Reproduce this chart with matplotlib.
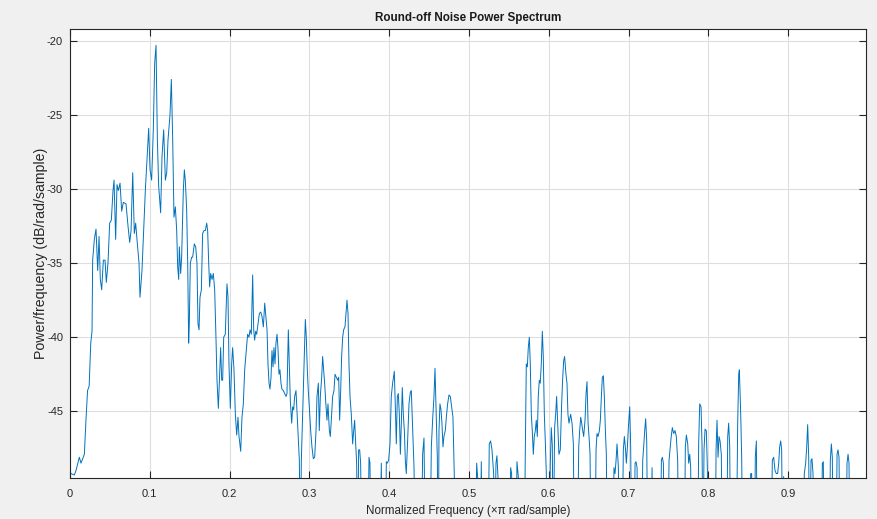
import numpy as np
import matplotlib.pyplot as plt

plt.rcParams['font.family'] = ['Liberation Sans', 'DejaVu Sans']
plt.rcParams['axes.unicode_minus'] = False

# values (-55 = dips below the visible floor)
freq = [
    0.0013, 0.0054, 0.0075, 0.0117, 0.0138, 0.018, 0.020, 0.022, 0.024, 0.026,
    0.0276, 0.0284, 0.0305, 0.0326, 0.0347, 0.0364, 0.038, 0.0397, 0.0418, 0.0439,
    0.0455, 0.0476, 0.0497, 0.0518, 0.0539, 0.0552, 0.0572, 0.0589, 0.0606, 0.0627,
    0.0648, 0.0668, 0.0702, 0.0727, 0.0748, 0.0765, 0.0786, 0.0806, 0.0823, 0.0844,
    0.0865, 0.0877, 0.0902, 0.0923, 0.0944, 0.0965, 0.0986, 0.1003, 0.1023, 0.1044,
    0.1061, 0.1078, 0.1095, 0.1111, 0.1136, 0.1153, 0.1174, 0.1195, 0.1212, 0.1228,
    0.1253,
    0.1257, 0.127, 0.1287, 0.1303, 0.132, 0.1337, 0.1349, 0.1362, 0.137, 0.1387,
    0.1399, 0.142, 0.1433, 0.1445, 0.1462, 0.1475, 0.1487, 0.1495, 0.1508, 0.1525,
    0.1537, 0.1558, 0.1575, 0.1591, 0.1604, 0.1617, 0.1629, 0.1646, 0.1662, 0.1679,
    0.1696, 0.1713, 0.1725, 0.1738, 0.175, 0.1763, 0.178, 0.1796, 0.1813, 0.183,
    0.1842, 0.1859, 0.1871, 0.1888, 0.1901, 0.1913, 0.1926, 0.1946, 0.1967, 0.198,
    0.1992, 0.2009, 0.2026, 0.2038, 0.2055, 0.2072, 0.2089, 0.2105, 0.2118, 0.2139,
    0.2155, 0.2172, 0.2189, 0.2206, 0.2226, 0.2243, 0.2256, 0.2272, 0.2289, 0.2302,
    0.2314, 0.2327, 0.2339, 0.2356, 0.2373, 0.239, 0.2406, 0.2423, 0.244,
    0.2469, 0.2481, 0.2494, 0.2506, 0.2519, 0.2531, 0.2544, 0.2556, 0.2569, 0.2581,
    0.2594, 0.2606, 0.2619, 0.2631, 0.2644, 0.2656, 0.2673, 0.269, 0.2707, 0.2719,
    0.2736, 0.2748, 0.2761, 0.2778, 0.279, 0.2803, 0.2815, 0.2832, 0.2844, 0.2857,
    0.2874, 0.2886, 0.2899, 0.2915, 0.2932, 0.2949, 0.2961, 0.2974, 0.2986, 0.2999,
    0.3016, 0.3032, 0.3049, 0.3066, 0.3083, 0.3095, 0.3112, 0.3124, 0.3137, 0.3154,
    0.3166, 0.3179, 0.3191, 0.3204, 0.322, 0.3233, 0.325, 0.3262, 0.3279, 0.3291,
    0.3308, 0.3321, 0.3337, 0.3354, 0.3367, 0.3379, 0.3392, 0.3404, 0.3417, 0.3429,
    0.3446, 0.3458, 0.3471, 0.3484, 0.3496, 0.3509, 0.3525, 0.3542, 0.3555, 0.3567,
    0.358, 0.3592, 0.3605, 0.3617, 0.363, 0.3642, 0.3659, 0.373, 0.3747, 0.3759,
    0.3772, 0.3884, 0.3901, 0.3914, 0.3951, 0.3964, 0.3976, 0.3993, 0.401, 0.4026,
    0.4043, 0.4064, 0.4077, 0.4089, 0.4102, 0.4114, 0.4127, 0.414, 0.4152, 0.4164,
    0.4177, 0.419, 0.4202, 0.4214, 0.4231, 0.4248, 0.4265, 0.4277, 0.4294, 0.4311,
    0.4327, 0.4402, 0.4419, 0.4436, 0.4453, 0.4511, 0.4528, 0.4544, 0.4561, 0.4574,
    0.4586, 0.4603, 0.4615, 0.4624, 0.4636, 0.4649, 0.4661, 0.4674, 0.4686, 0.4703,
    0.4716, 0.4732, 0.4749, 0.4766, 0.4782, 0.4799, 0.4816, 0.4828,
    0.5079, 0.5096, 0.5108, 0.5129, 0.5142, 0.5154, 0.5167, 0.5238, 0.5254, 0.5271,
    0.5288, 0.5309, 0.5321, 0.5338, 0.535, 0.5363, 0.5375, 0.5505, 0.5522, 0.5534,
    0.5547, 0.5589, 0.5601, 0.5618, 0.563, 0.5693, 0.5705, 0.5718, 0.5731, 0.5743,
    0.5756, 0.5768, 0.5781, 0.5793, 0.5806, 0.5818, 0.5831, 0.5843, 0.5856, 0.5868,
    0.5881, 0.5893, 0.5906, 0.5919, 0.5931, 0.5944, 0.5956, 0.5969, 0.5981, 0.6006,
    0.6019, 0.6031, 0.6044, 0.6056, 0.6073, 0.6086, 0.6098, 0.6111, 0.6127, 0.6144,
    0.6161, 0.6173, 0.6186, 0.6198, 0.6215, 0.6228, 0.624, 0.6253,
    0.6274, 0.6291, 0.6308, 0.632, 0.6358, 0.6375, 0.6387, 0.64, 0.6412, 0.6425,
    0.6437, 0.6454, 0.6467, 0.6479, 0.6492, 0.6504, 0.6517, 0.6529, 0.6579, 0.6592,
    0.6604, 0.6617, 0.6634, 0.6646, 0.6659, 0.6671, 0.6684, 0.6696, 0.6709, 0.6721,
    0.6734, 0.6801, 0.6817, 0.683, 0.6843, 0.6855, 0.6872, 0.6884, 0.6918, 0.6934,
    0.6947, 0.6959, 0.6972, 0.6985, 0.6997, 0.7014, 0.7026, 0.7039, 0.7068, 0.7081,
    0.7093, 0.7106, 0.7118, 0.7164, 0.7177, 0.7189, 0.7202, 0.7214, 0.7227, 0.724,
    0.7281, 0.7294, 0.7306, 0.7398, 0.7411, 0.7423, 0.7436, 0.7448, 0.749, 0.7507,
    0.7532, 0.7548, 0.7565, 0.7582, 0.7598, 0.7615, 0.7628, 0.7699, 0.7711, 0.7724,
    0.7741, 0.7753, 0.7766, 0.7778, 0.7791, 0.7866, 0.7878, 0.7891, 0.7908, 0.792,
    0.7933, 0.7945, 0.7958, 0.7974, 0.7987, 0.7999, 0.8087, 0.8096, 0.8108, 0.8121,
    0.8133, 0.8146, 0.8162, 0.8175, 0.8229, 0.8242, 0.8254, 0.8267, 0.8279, 0.835,
    0.8367, 0.838, 0.8388, 0.8405, 0.8417, 0.843, 0.8513, 0.853, 0.8542, 0.8555,
    0.8576, 0.8588, 0.8601, 0.8613,
    0.8785, 0.8801, 0.8818, 0.8835, 0.8851, 0.8868, 0.8881, 0.8893, 0.8906, 0.8918,
    0.8931, 0.8943, 0.8956, 0.9181, 0.9202, 0.9219, 0.9232, 0.9244, 0.9257, 0.9269,
    0.9286, 0.9298, 0.9311, 0.9323, 0.9411, 0.9428, 0.944, 0.9453, 0.9516, 0.9528,
    0.9541, 0.9553, 0.9566, 0.96, 0.9612, 0.9624, 0.9637, 0.965, 0.9725, 0.9737,
    0.975, 0.9762, 0.9775,
]
power = [
    -49.2, -49.3, -49.0, -48.1, -48.5, -47.9, -45.6, -43.6, -43.3, -40.4,
    -39.6, -34.8, -33.4, -32.7, -35.5, -33.2, -36.1, -36.8, -34.8, -34.8,
    -36.3, -35.0, -32.3, -32.1, -30.1, -29.4, -33.4, -29.7, -30.1, -29.6,
    -31.5, -30.9, -31.0, -32.5, -33.6, -32.8, -28.9, -33.0, -32.3, -33.7,
    -35.0, -37.3, -35.5, -32.8, -30.1, -28.0, -25.9, -28.7, -29.4, -26.0,
    -21.5, -20.3, -26.7, -29.8, -31.6, -27.8, -26.0, -29.4, -28.9, -26.7,
    -25.0,
    -24.4, -22.6, -26.7, -31.9, -31.2, -32.8, -35.2, -36.1, -33.9, -35.7,
    -34.6, -30.1, -28.7, -29.4, -31.4, -35.0, -40.4, -39.1, -35.0, -34.6,
    -34.6, -33.7, -33.9, -35.0, -39.1, -39.5, -37.3, -36.8, -33.0, -32.8,
    -32.8, -32.3, -32.8, -35.0, -36.6, -35.7, -36.1, -35.7, -36.8, -40.2,
    -42.9, -44.8, -43.1, -40.7, -42.9, -42.9, -40.0, -39.8, -36.4, -37.3,
    -41.8, -44.8, -41.8, -40.7, -42.2, -45.2, -46.6, -45.4, -46.7, -47.7,
    -45.4, -44.5, -42.2, -41.1, -39.8, -40.0, -39.5, -39.8, -35.8, -39.5,
    -40.2, -39.6, -39.8, -39.1, -38.4, -38.3, -38.6, -39.3, -37.7,
    -39.5, -41.8, -43.1, -43.5, -42.7, -40.9, -42.0, -40.7, -41.8, -40.4,
    -39.8, -40.7, -42.5, -42.2, -43.1, -43.5, -43.6, -43.8, -44.0, -43.8,
    -39.5, -41.8, -44.3, -45.8, -44.7, -44.9, -44.0, -43.6, -44.9, -46.3,
    -48.3, -55.0, -48.3, -45.2, -41.8, -38.8, -40.0, -42.2, -43.6, -44.7,
    -46.3, -47.4, -48.2, -48.1, -46.3, -44.0, -43.1, -46.3, -44.0, -42.7,
    -41.3, -42.2, -43.1, -44.3, -45.6, -44.5, -46.3, -46.7, -45.2, -44.0,
    -43.6, -42.5, -42.7, -42.9, -42.7, -45.6, -43.6, -41.3, -40.0, -39.5,
    -39.3, -38.4, -37.5, -38.4, -41.8, -44.0, -45.2, -47.2, -46.3, -45.6,
    -47.2, -48.5, -55.0, -47.6, -47.6, -48.5, -55.0, -55.0, -48.1, -48.5,
    -55.0, -55.0, -48.5, -55.0, -55.0, -48.4, -48.5, -48.3, -47.2, -44.0,
    -43.1, -42.3, -44.7, -47.2, -44.0, -43.8, -45.2, -47.9, -45.8, -43.4,
    -45.2, -46.3, -48.3, -49.2, -47.0, -44.5, -43.7, -43.6, -46.3, -48.8,
    -55.0, -55.0, -47.9, -46.8, -55.0, -55.0, -47.4, -45.6, -44.0, -42.1,
    -44.7, -48.1, -55.0, -46.3, -44.5, -44.9, -45.8, -47.4, -46.7, -46.3,
    -45.4, -44.5, -43.9, -44.0, -44.7, -45.4, -49.4, -55.0,
    -55.0, -48.5, -49.4, -55.0, -55.0, -48.4, -55.0, -55.0, -47.2, -47.0,
    -47.6, -49.2, -55.0, -48.5, -48.0, -49.4, -55.0, -55.0, -48.8, -49.2,
    -55.0, -55.0, -48.4, -49.4, -55.0, -55.0, -48.1, -41.8, -42.0, -40.7,
    -40.0, -41.8, -45.2, -46.3, -47.9, -46.7, -46.3, -45.6, -46.7, -44.0,
    -42.9, -43.1, -41.8, -39.6, -41.3, -45.2, -47.0, -49.2, -55.0, -55.0,
    -48.5, -46.1, -47.3, -55.0, -46.1, -45.2, -44.0, -45.8, -47.9, -47.6,
    -44.5, -42.9, -41.6, -41.3, -42.5, -43.1, -45.2, -45.8,
    -45.2, -45.8, -47.2, -55.0, -55.0, -47.4, -46.3, -45.4, -45.8, -46.3,
    -46.7, -45.6, -43.8, -43.0, -45.8, -46.7, -47.9, -55.0, -55.0, -47.6,
    -46.5, -46.7, -46.3, -45.6, -44.0, -42.7, -42.6, -44.0, -46.3, -47.9,
    -55.0, -55.0, -48.8, -49.2, -48.3, -47.2, -48.8, -55.0, -55.0, -47.6,
    -46.7, -47.4, -48.5, -47.4, -46.1, -44.7, -47.4, -55.0, -55.0, -48.5,
    -48.4, -48.8, -55.0, -55.0, -48.3, -47.4, -46.3, -45.5, -47.0, -55.0,
    -55.0, -48.8, -55.0, -55.0, -48.3, -48.1, -48.5, -55.0, -55.0, -48.3,
    -46.8, -46.1, -46.5, -46.3, -46.7, -48.3, -55.0, -55.0, -47.4, -46.6,
    -47.2, -48.5, -47.9, -48.8, -55.0, -55.0, -47.2, -44.5, -44.7, -47.2,
    -55.0, -47.6, -46.2, -46.3, -48.8, -55.0, -55.0, -47.6, -45.6, -48.1,
    -46.7, -47.0, -47.9, -55.0, -55.0, -46.7, -45.8, -47.4, -55.0, -55.0,
    -45.8, -42.5, -42.2, -45.2, -48.1, -55.0, -55.0, -49.2, -49.2, -55.0,
    -55.0, -48.1, -47.0, -55.0,
    -55.0, -48.3, -48.1, -49.0, -49.2, -49.2, -48.5, -47.4, -47.0, -47.6,
    -55.0, -49.4, -55.0, -55.0, -49.2, -48.5, -47.4, -45.9, -48.1, -55.0,
    -48.3, -48.2, -49.2, -55.0, -55.0, -48.5, -48.4, -55.0, -55.0, -48.3,
    -47.2, -48.1, -55.0, -55.0, -47.9, -47.6, -48.1, -55.0, -55.0, -48.5,
    -47.9, -48.5, -55.0,
]

xticks = [0, 0.1, 0.2, 0.3, 0.4, 0.5, 0.6, 0.7, 0.8, 0.9]
xtick_labels = ['0', '0.1', '0.2', '0.3', '0.4', '0.5', '0.6', '0.7', '0.8', '0.9']
yticks = [-45, -40, -35, -30, -25, -20]

fig = plt.figure(figsize=(8.77, 5.19), dpi=100, facecolor='#f0f0f0')
ax = fig.add_axes([70 / 877, 1 - 478 / 519, 796 / 877, 449 / 519])
ax.set_facecolor('white')

ax.plot(freq, power, color='#0072bd', lw=0.7)

ax.set_xlim(0, 0.9975)
ax.set_ylim(-49.5, -19.2)
ax.set_xticks(xticks)
ax.set_xticklabels(xtick_labels)
ax.set_yticks(yticks)
ax.grid(True, color='#dedede', lw=0.8)
ax.set_axisbelow(True)
ax.tick_params(direction='in', length=5, width=0.8, top=True, right=True,
               labelsize=8, colors='#262626')
ax.tick_params(axis='x', pad=8)
ax.tick_params(axis='y', pad=5)
for s in ax.spines.values():
    s.set_color('#262626')
    s.set_linewidth(0.8)

ax.set_title('Round-off Noise Power Spectrum', fontweight='bold', fontsize=8.4,
             color='#1a1a1a', pad=6)
ax.set_xlabel('Normalized Frequency (×π rad/sample)', fontsize=8.4, color='#262626', labelpad=4.5)
ax.set_ylabel('Power/frequency (dB/rad/sample)', fontsize=10.2, color='#262626', labelpad=-1)

fig.savefig('out.png', dpi=100, facecolor=fig.get_facecolor())
